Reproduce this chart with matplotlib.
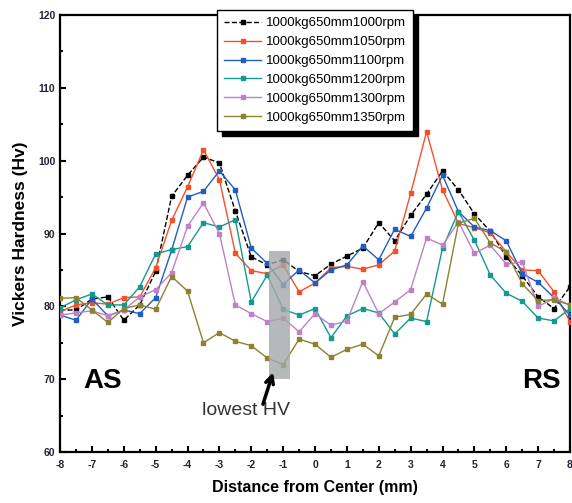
import matplotlib
matplotlib.use("Agg")
import matplotlib.pyplot as plt
import numpy as np
from matplotlib.ticker import MultipleLocator
from matplotlib.patches import Rectangle

plt.rcParams['font.family'] = ['Liberation Sans', 'DejaVu Sans']
plt.rcParams['axes.unicode_minus'] = False

distance = np.arange(-8, 8.01, 0.5)

rpm_1000 = [79.5, 79.5, 81.0, 81.3, 78.1, 80.2, 84.8, 95.1, 98.0, 100.5, 99.7, 93.1, 86.8, 85.7, 86.4, 84.8,
            84.2, 85.8, 86.9, 88.0, 91.5, 89.0, 92.5, 95.4, 98.6, 96.0, 92.7, 90.3, 86.8, 84.2, 81.3, 79.7, 82.7]
rpm_1050 = [79.3, 80.2, 80.5, 80.3, 81.2, 81.3, 85.3, 91.8, 96.4, 101.5, 97.4, 87.3, 84.9, 84.5, 85.7, 82.0,
            83.2, 85.3, 85.5, 85.1, 85.7, 87.6, 95.5, 104.0, 96.0, 91.4, 90.8, 90.1, 87.5, 85.0, 84.9, 82.0, 77.9]
rpm_1100 = [78.8, 78.1, 81.0, 78.7, 79.5, 79.0, 81.2, 87.7, 95.0, 95.8, 98.6, 96.0, 88.0, 85.9, 83.0, 85.0,
            83.2, 85.0, 85.7, 88.3, 86.4, 90.6, 89.6, 93.5, 98.0, 93.0, 90.9, 90.4, 89.0, 84.5, 83.3, 81.2, 78.8]
rpm_1200 = [79.8, 80.9, 81.7, 80.2, 80.2, 82.7, 87.2, 87.8, 88.2, 91.5, 90.9, 91.9, 80.6, 84.3, 79.6, 78.8,
            79.7, 75.7, 78.7, 79.7, 79.1, 76.2, 78.4, 77.9, 88.0, 93.0, 89.1, 84.3, 81.8, 80.7, 78.4, 78.0, 79.7]
rpm_1300 = [78.8, 79.1, 79.4, 78.7, 79.5, 81.3, 82.3, 84.6, 91.0, 94.2, 90.0, 80.2, 79.0, 77.9, 78.4, 76.5,
            79.0, 77.4, 78.0, 83.4, 79.0, 80.6, 82.3, 89.4, 88.4, 91.6, 87.3, 88.4, 85.8, 86.1, 80.0, 81.1, 80.2]
rpm_1350 = [81.1, 81.2, 79.5, 77.8, 79.7, 80.2, 79.6, 84.1, 82.1, 75.0, 76.4, 75.2, 74.6, 72.9, 72.0, 75.5,
            74.8, 73.0, 74.1, 74.8, 73.2, 78.5, 78.9, 81.7, 80.3, 91.4, 92.1, 88.7, 87.5, 83.1, 80.8, 80.9, 80.2]

labels = ["1000kg650mm1000rpm", "1000kg650mm1050rpm", "1000kg650mm1100rpm",
          "1000kg650mm1200rpm", "1000kg650mm1300rpm", "1000kg650mm1350rpm"]
series = [rpm_1000, rpm_1050, rpm_1100, rpm_1200, rpm_1300, rpm_1350]
colors = ["#000000", "#f5502a", "#1f5fbf", "#14998f", "#c080c8", "#8c8232"]
styles = ["--", "-", "-", "-", "-", "-"]

fig = plt.figure(figsize=(5.72, 5.03), dpi=100)
ax = fig.add_axes([0.105, 0.1014, 0.8915, 0.8686])

for vals, lab, col, ls in zip(series, labels, colors, styles):
    ax.plot(distance, vals, ls=ls, color=col, lw=1.0, marker='s', ms=3.2,
            mec=col, mfc=col, label=lab, zorder=3)

ax.set_xlim(-8, 8)
ax.set_ylim(60, 120)
ax.xaxis.set_major_locator(MultipleLocator(1))
ax.xaxis.set_minor_locator(MultipleLocator(0.5))
ax.yaxis.set_major_locator(MultipleLocator(10))
ax.yaxis.set_minor_locator(MultipleLocator(5))
ax.tick_params(which='both', direction='in', width=1.5, colors='black', labelcolor='#222233')
ax.tick_params(which='major', length=4.5, labelsize=7.5)
ax.tick_params(which='minor', length=2.5)
ax.tick_params(axis='x', which='major', pad=6)
for lbl in ax.get_xticklabels() + ax.get_yticklabels():
    lbl.set_fontweight('bold')
for sp in ax.spines.values():
    sp.set_linewidth(1.6)

ax.set_xlabel("Distance from Center (mm)", fontsize=11.5, fontweight='bold', labelpad=7)
ax.set_ylabel("Vickers Hardness (Hv)", fontsize=12.5, fontweight='bold', labelpad=7)

# grey highlight box
ax.add_patch(Rectangle((-1.45, 70.0), 0.65, 17.6, facecolor='#a4a8aa', edgecolor='none',
                       alpha=0.8, zorder=4))
ax.annotate("", xy=(-1.29, 71.3), xytext=(-1.66, 66.2),
            arrowprops=dict(arrowstyle='->', lw=2.5, color='black', mutation_scale=14), zorder=5)
ax.text(-2.18, 65.7, "lowest HV", fontsize=14, color='#333333', ha='center', va='center')
ax.text(-6.68, 69.75, "AS", fontsize=20, fontweight='bold', ha='center', va='center')
ax.text(7.09, 69.75, "RS", fontsize=20, fontweight='bold', ha='center', va='center')

leg = ax.legend(loc='upper left', bbox_to_anchor=(217/572, 1 - 10/503), bbox_transform=fig.transFigure,
                fontsize=9.5, frameon=True, fancybox=False, edgecolor='black', numpoints=1,
                shadow={'ox': 3.5, 'oy': -3.5, 'color': 'black', 'alpha': 1},
                borderaxespad=0, borderpad=0.55, labelspacing=0.5, handlelength=2.8, handletextpad=0.35)
leg.get_frame().set_linewidth(1.0)
leg.set_zorder(10)

fig.savefig("out.png", dpi=100)
